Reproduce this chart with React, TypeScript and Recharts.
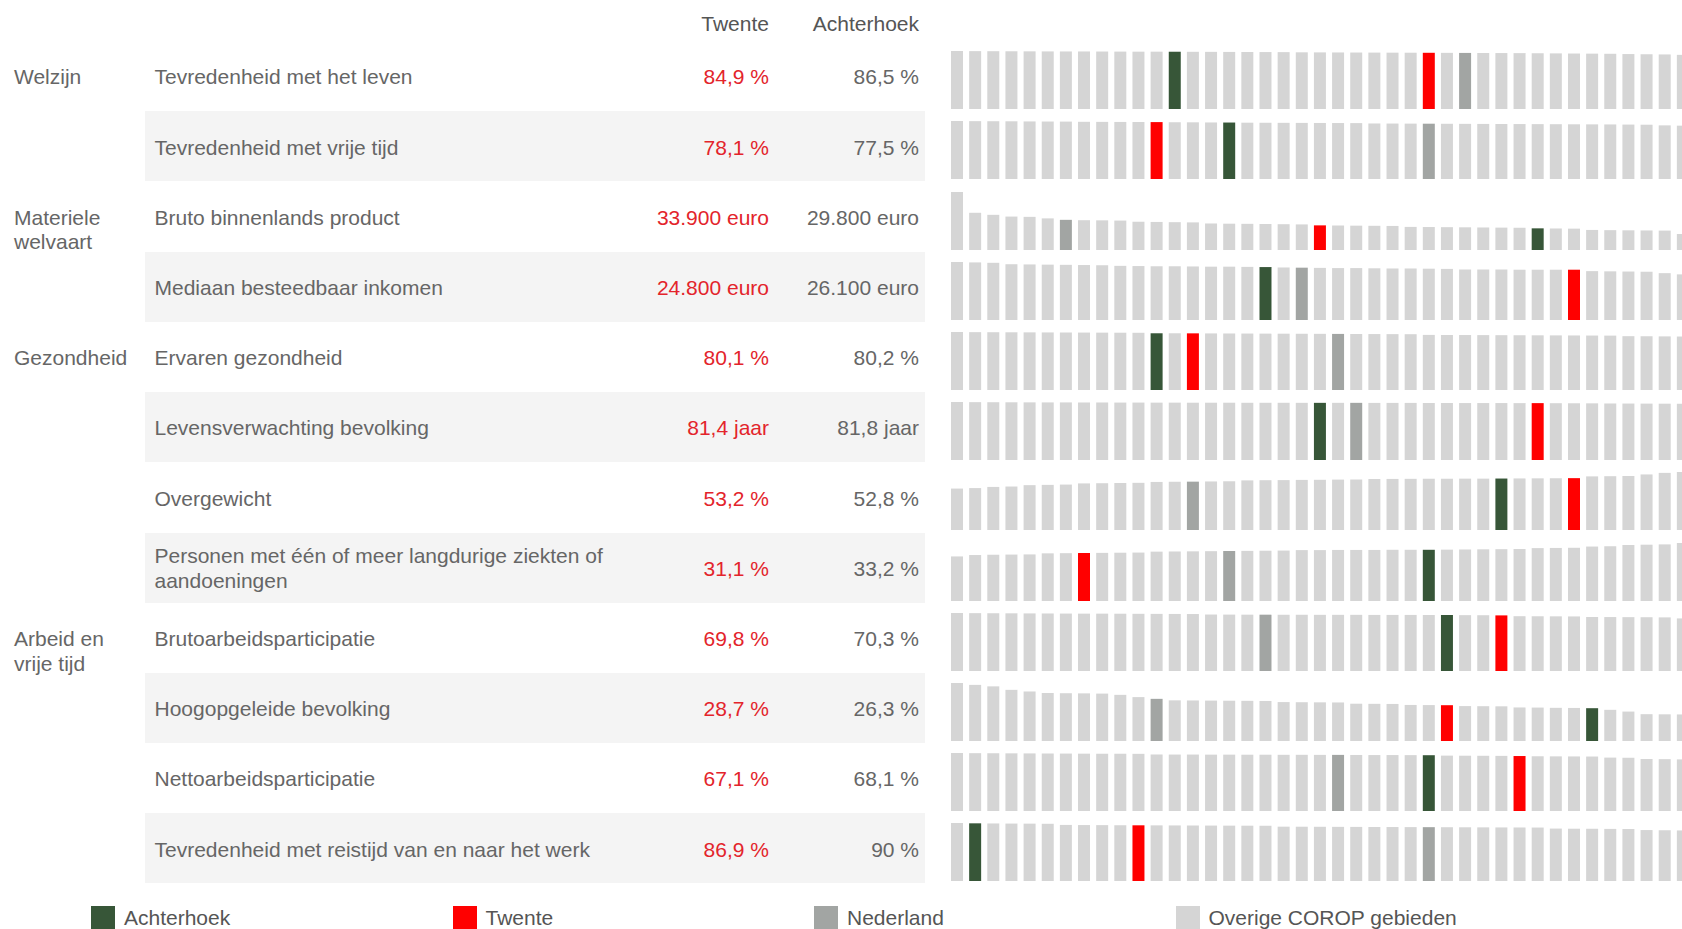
import React from "react";
import { BarChart, Bar, Cell, XAxis, YAxis } from "recharts";

// Twente vs Achterhoek: a table of indicators with, per row, a small
// ranking of all COROP areas (plus Nederland) drawn as a bar strip.

const indicators = [
  "Tevredenheid met het leven",
  "Tevredenheid met vrije tijd",
  "Bruto binnenlands product",
  "Mediaan besteedbaar inkomen",
  "Ervaren gezondheid",
  "Levensverwachting bevolking",
  "Overgewicht",
  "Personen met één of meer langdurige ziekten of aandoeningen",
  "Brutoarbeidsparticipatie",
  "Hoogopgeleide bevolking",
  "Nettoarbeidsparticipatie",
  "Tevredenheid met reistijd van en naar het werk",
];

// category label per row (empty = none), lines split
const groupLabels = [
  ["Welzijn"], [], ["Materiele", "welvaart"], [], ["Gezondheid"], [], [], [],
  ["Arbeid en", "vrije tijd"], [], [], [],
];

const twenteText = ["84,9 %", "78,1 %", "33.900 euro", "24.800 euro", "80,1 %", "81,4 jaar", "53,2 %", "31,1 %", "69,8 %", "28,7 %", "67,1 %", "86,9 %"];
const achterhoekText = ["86,5 %", "77,5 %", "29.800 euro", "26.100 euro", "80,2 %", "81,8 jaar", "52,8 %", "33,2 %", "70,3 %", "26,3 %", "68,1 %", "90 %"];

// position of each highlighted area within the ranking
const twenteIdx = [26, 11, 20, 34, 13, 32, 34, 7, 30, 27, 31, 10];
const achterhoekIdx = [12, 15, 32, 17, 11, 20, 30, 26, 27, 35, 26, 1];
const nederlandIdx = [28, 26, 6, 19, 21, 22, 13, 15, 17, 11, 21, 26];

const tevLeven = [87.6, 87.4, 87.3, 87.2, 87.1, 87.0, 86.9, 86.9, 86.8, 86.7, 86.6, 86.6, 86.5, 86.4, 86.3, 86.2, 86.1, 86.0, 85.9, 85.6, 85.5, 85.4, 85.3, 85.2, 85.1, 85.0, 84.9, 84.8, 84.7, 84.6, 84.5, 84.4, 84.2, 84.0, 83.8, 83.6, 83.4, 83.0, 82.7, 82.4, 81.8];
const tevVrijeTijd = [79.6, 79.4, 79.3, 79.2, 79.0, 78.9, 78.8, 78.5, 78.4, 78.3, 78.2, 78.1, 77.9, 77.8, 77.6, 77.5, 77.3, 77.2, 77.1, 77.0, 76.9, 76.8, 76.7, 76.2, 76.1, 76.0, 75.9, 75.8, 75.7, 75.6, 75.5, 75.4, 75.3, 75.2, 75.1, 75.0, 74.9, 74.7, 74.5, 73.6, 73.2];
const bbp = [79800, 51200, 48400, 46000, 45600, 43500, 41500, 41000, 40800, 40500, 38900, 38600, 38300, 38000, 36500, 36200, 36000, 35800, 35500, 35200, 33900, 33700, 33500, 33300, 33100, 31800, 31600, 31400, 31200, 31000, 30800, 30600, 29800, 29600, 29400, 27600, 27300, 27100, 26900, 26700, 22000];
const inkomen = [28600, 28400, 28200, 27500, 27400, 27300, 27200, 27100, 27000, 26700, 26600, 26500, 26500, 26400, 26300, 26300, 26200, 26100, 25900, 25800, 25700, 25600, 25600, 25500, 25400, 25400, 25300, 25200, 24900, 24900, 24900, 24800, 24800, 24800, 24800, 24100, 24000, 23900, 23800, 23100, 22500];
const gezondheid = [82.0, 81.8, 81.7, 81.6, 81.5, 81.4, 81.3, 81.2, 81.1, 81.0, 80.9, 80.2, 80.2, 80.1, 80.0, 79.9, 79.8, 79.7, 79.6, 79.5, 79.4, 79.3, 79.2, 79.1, 79.0, 78.9, 77.9, 77.8, 77.7, 77.6, 77.5, 77.4, 77.3, 77.2, 77.1, 77.0, 76.9, 76.1, 76.0, 75.8, 75.6];
const levensverw = [83.0, 82.8, 82.7, 82.6, 82.5, 82.4, 82.4, 82.3, 82.3, 82.2, 82.2, 82.1, 82.1, 82.0, 82.0, 82.0, 81.9, 81.9, 81.9, 81.8, 81.8, 81.8, 81.8, 81.7, 81.7, 81.7, 81.6, 81.6, 81.5, 81.5, 81.5, 81.4, 81.4, 81.3, 81.2, 81.1, 80.9, 80.8, 80.7, 80.6, 80.5];
const overgewicht = [42.5, 43.0, 44.2, 44.6, 46.0, 46.3, 46.6, 47.8, 48.0, 48.2, 48.4, 49.3, 49.5, 49.6, 49.8, 50.0, 50.9, 51.1, 51.2, 51.4, 51.5, 51.7, 51.8, 52.3, 52.4, 52.5, 52.6, 52.6, 52.7, 52.7, 52.8, 52.9, 53.0, 53.1, 53.2, 55.0, 55.2, 55.4, 57.0, 58.6, 59.5];
const ziekten = [28.9, 29.8, 30.0, 30.1, 30.2, 30.9, 31.0, 31.1, 31.2, 31.3, 31.4, 32.0, 32.1, 32.2, 32.3, 32.4, 32.5, 32.6, 32.7, 33.0, 33.0, 33.1, 33.1, 33.1, 33.2, 33.2, 33.2, 33.3, 33.4, 33.5, 33.6, 33.7, 34.3, 34.4, 34.5, 35.3, 35.5, 36.3, 36.5, 36.7, 37.6];
const brutoArb = [72.8, 72.6, 72.5, 72.4, 72.3, 72.2, 72.1, 72.0, 72.0, 71.9, 71.8, 71.7, 71.6, 71.5, 70.9, 70.8, 70.7, 70.7, 70.6, 70.6, 70.5, 70.5, 70.5, 70.4, 70.4, 70.4, 70.3, 70.3, 70.1, 70.0, 69.8, 68.8, 68.7, 68.6, 68.5, 67.8, 67.7, 67.6, 67.5, 67.3, 66.0];
const hoogopgeleid = [46.5, 45.0, 43.8, 41.0, 39.7, 38.5, 38.3, 38.2, 38.0, 37.0, 35.2, 33.8, 32.6, 32.5, 32.4, 32.3, 32.2, 32.1, 31.2, 31.1, 31.0, 30.9, 29.9, 29.8, 29.7, 28.9, 28.8, 28.7, 28.0, 27.9, 27.8, 26.9, 26.8, 26.6, 26.5, 26.3, 25.0, 23.6, 21.5, 21.4, 21.3];
const nettoArb = [70.8, 70.6, 70.5, 70.4, 70.3, 70.2, 70.1, 70.0, 69.9, 69.9, 69.8, 69.0, 68.9, 68.9, 68.8, 68.8, 68.7, 68.7, 68.6, 68.6, 68.5, 68.5, 68.4, 68.3, 68.3, 68.2, 68.1, 67.6, 67.5, 67.4, 67.3, 67.1, 66.8, 66.7, 66.6, 66.5, 65.2, 65.0, 63.5, 63.3, 63.0];
const reistijd = [90.5, 90.0, 89.8, 89.6, 89.5, 89.3, 87.5, 87.3, 87.2, 87.0, 86.9, 86.8, 86.7, 86.6, 86.5, 86.4, 86.3, 86.2, 84.8, 84.7, 84.6, 84.5, 84.4, 84.3, 84.2, 84.1, 84.0, 83.9, 83.8, 83.7, 83.6, 83.5, 83.4, 81.8, 81.6, 81.5, 81.3, 81.1, 79.5, 79.2, 78.9];

const series = [tevLeven, tevVrijeTijd, bbp, inkomen, gezondheid, levensverw, overgewicht, ziekten, brutoArb, hoogopgeleid, nettoArb, reistijd];

const legendItems = ["Achterhoek", "Twente", "Nederland", "Overige COROP gebieden"];

const C_ACHTER = "#375638";
const C_TWENTE = "#ff0000";
const C_NL = "#a2a5a3";
const C_OTHER = "#d5d5d5";
const legendColors = [C_ACHTER, C_TWENTE, C_NL, C_OTHER];

const ROW_H = 70.2;
const TOP0 = 41.1;
const LINE = 24.7;
const TXT_DY = 1.5; // text sits a bit lower than the row centre

function RowBars({ values, t, a, n }: { values: number[]; t: number; a: number; n: number }) {
  const data = values.map((v, i) => ({ i, v }));
  const color = (i: number) =>
    i === a ? C_ACHTER : i === t ? C_TWENTE : i === n ? C_NL : C_OTHER;
  return (
    <BarChart
      width={744}
      height={58}
      data={data}
      margin={{ top: 0, right: 0, bottom: 0, left: 0 }}
      barCategoryGap={0}
    >
      <XAxis dataKey="i" hide />
      <YAxis hide domain={[0, "dataMax"]} />
      <Bar dataKey="v" barSize={12} isAnimationActive={false}>
        {data.map((d) => (
          <Cell key={d.i} fill={color(d.i)} />
        ))}
      </Bar>
    </BarChart>
  );
}

export default function App() {
  return (
    <div
      style={{
        position: "fixed",
        left: 0,
        top: 0,
        width: 1682,
        height: 929,
        overflow: "hidden",
        background: "#fff",
        fontFamily: '"Liberation Sans", Arial, sans-serif',
        fontSize: 21,
        color: "#666",
        lineHeight: `${LINE}px`,
      }}
    >
      {/* column headers */}
      <div style={{ position: "absolute", top: 24.6 - LINE / 2, right: 1682 - 769, color: "#555" }}>Twente</div>
      <div style={{ position: "absolute", top: 24.6 - LINE / 2, right: 1682 - 919, color: "#555" }}>Achterhoek</div>

      {indicators.map((name, i) => {
        const top = TOP0 + i * ROW_H;
        const mid = top + ROW_H / 2 + TXT_DY;
        return (
          <React.Fragment key={i}>
            {i % 2 === 1 && (
              <div style={{ position: "absolute", top, left: 145, width: 780, height: ROW_H, background: "#f4f4f4" }} />
            )}
            {groupLabels[i].length > 0 && (
              <div style={{ position: "absolute", top: mid - LINE / 2, left: 14 }}>
                {groupLabels[i].map((l) => (
                  <div key={l}>{l}</div>
                ))}
              </div>
            )}
            <div
              style={{
                position: "absolute",
                top: top + TXT_DY,
                left: 154.5,
                width: 470,
                height: ROW_H,
                display: "flex",
                alignItems: "center",
              }}
            >
              <span>{name}</span>
            </div>
            <div style={{ position: "absolute", top: mid - LINE / 2, right: 1682 - 769, color: "#e3242b" }}>
              {twenteText[i]}
            </div>
            <div style={{ position: "absolute", top: mid - LINE / 2, right: 1682 - 919 }}>{achterhoekText[i]}</div>
            <div style={{ position: "absolute", top: top + 10, left: 947.6 }}>
              <RowBars values={series[i]} t={twenteIdx[i]} a={achterhoekIdx[i]} n={nederlandIdx[i]} />
            </div>
          </React.Fragment>
        );
      })}

      {/* legend */}
      {legendItems.map((name, k) => (
        <React.Fragment key={name}>
          <div
            style={{
              position: "absolute",
              top: 906,
              left: 91 + k * 361.5,
              width: 24,
              height: 30,
              background: legendColors[k],
            }}
          />
          <div style={{ position: "absolute", top: 918 - LINE / 2, left: 124 + k * 361.5, color: "#555" }}>
            {name}
          </div>
        </React.Fragment>
      ))}
    </div>
  );
}
